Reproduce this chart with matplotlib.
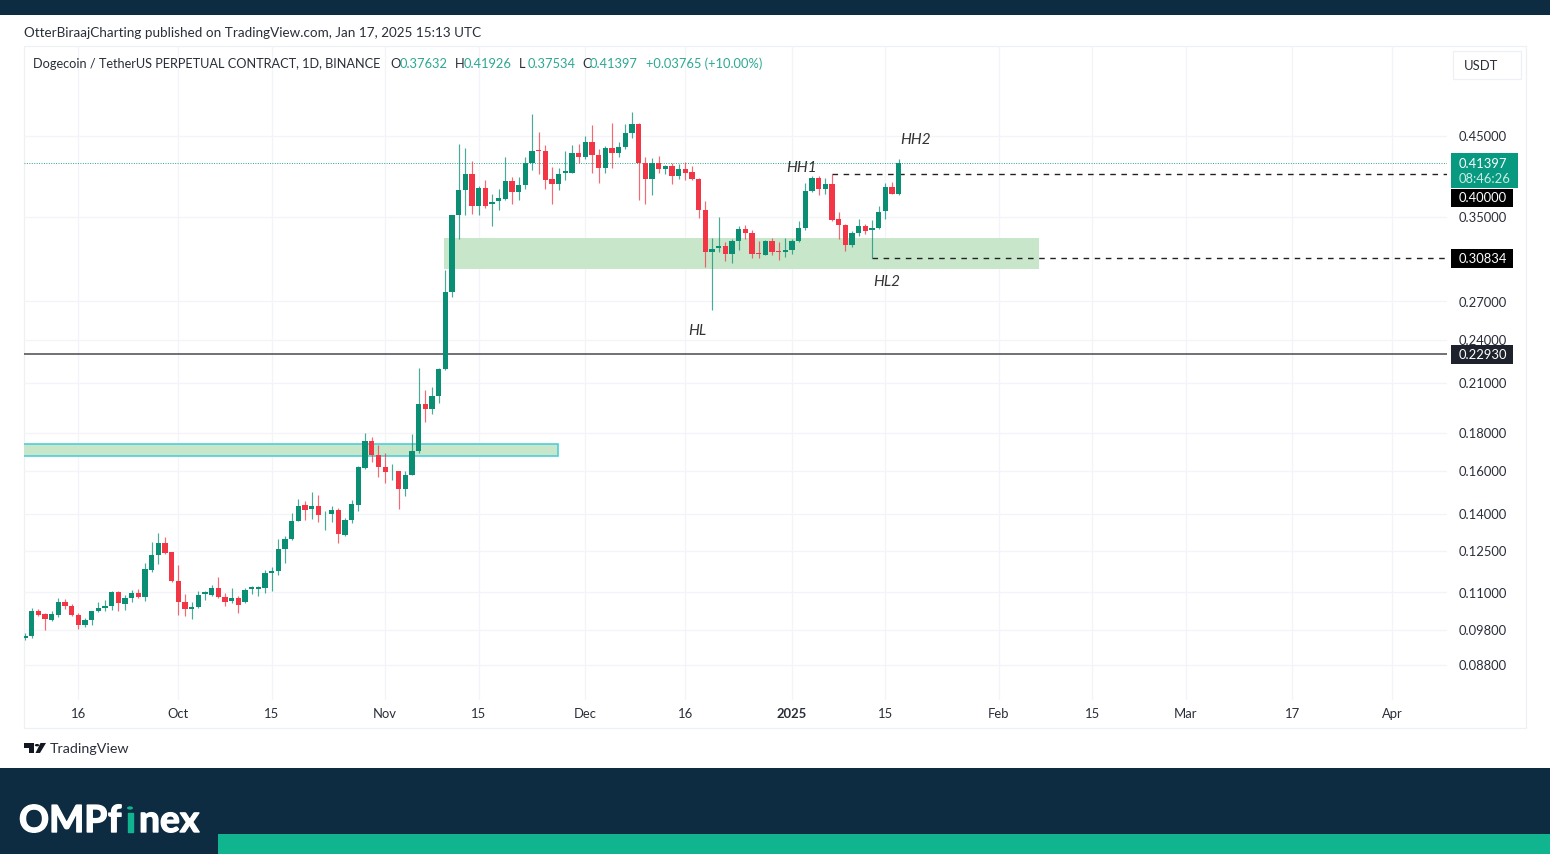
import numpy as np
import pandas as pd
import matplotlib
matplotlib.use("Agg")
import matplotlib.pyplot as plt
import matplotlib.dates as mdates
import matplotlib.patheffects as pe
from matplotlib.patches import Rectangle, Polygon, Circle
from matplotlib.ticker import NullLocator

plt.rcParams['font.family'] = ['Lato', 'DejaVu Sans']

start_date = "2024-09-08"

opens = [.0955,.0960,.1039,.1028,.1011,.1026,.1069,.1053,.1026,.0993,
.1011,.1037,.1049,.1055,.1100,.1062,.1081,.1098,.1083,.1179,
.1235,.1281,.1244,.1140,.1068,.1046,.1051,.1095,.1092,.1116,
.1084,.1072,.1081,.1068,.1111,.1113,.1115,.1169,.1175,.1257,
.1297,.1372,.1441,.1422,.1438,.1403,.1402,.1419,.1314,.1373,
.1441,.1614,.1756,.1682,.1617,.1598,.1598,.1514,.1581,.1699,
.1966,.1936,.2019,.2193,.2780,.3520,.3802,.3994,.3627,.3830,
.3641,.3675,.3706,.3914,.3778,.3872,.4136,.4310,.4300,.3937,
.3877,.4018,.4018,.4266,.4217,.4410,.4247,.4074,.4329,.4274,
.4351,.4538,.4673,.4144,.3937,.4144,.4065,.4094,.3978,.4065,
.4023,.3937,.3582,.3144,.3183,.3205,.3125,.3248,.3374,.3339,
.3134,.3118,.3248,.3150,.3140,.3159,.3255,.3385,.3798,.3945,
.3822,.3882,.3480,.3420,.3208,.3339,.3412,.3360,.3381,.3563,
.3848,.37632]

closes = [.0960,.1037,.1026,.1013,.1028,.1069,.1053,.1026,.0996,.1011,
.1037,.1049,.1055,.1100,.1064,.1081,.1098,.1083,.1183,.1235,
.1281,.1241,.1140,.1068,.1046,.1051,.1091,.1100,.1115,.1084,
.1069,.1081,.1058,.1109,.1117,.1117,.1167,.1175,.1258,.1297,
.1372,.1438,.1419,.1437,.1395,.1407,.1416,.1317,.1376,.1444,
.1617,.1757,.1682,.1617,.1593,.1602,.1514,.1581,.1699,.1966,
.1936,.2019,.2193,.2783,.3520,.3802,.3994,.3627,.3830,.3627,
.3672,.3713,.3914,.3778,.3872,.4136,.4300,.4300,.3929,.3877,
.4000,.4035,.4266,.4217,.4410,.4247,.4074,.4329,.4274,.4351,
.4538,.4673,.4144,.3937,.4144,.4060,.4094,.3978,.4065,.4018,
.3937,.3582,.3144,.3176,.3205,.3125,.3248,.3374,.3339,.3128,
.3125,.3248,.3144,.3140,.3159,.3255,.3391,.3798,.3945,.3822,
.3882,.3473,.3420,.3215,.3339,.3412,.3357,.3381,.3557,.3848,
.3762,.41397]

highs = [.0970,.1047,.1044,.1033,.1037,.1081,.1077,.1062,.1031,.1016,
.1040,.1069,.1073,.1106,.1103,.1092,.1107,.1111,.1206,.1285,
.1323,.1305,.1247,.1195,.1095,.1069,.1104,.1103,.1126,.1155,
.1098,.1115,.1086,.1115,.1122,.1120,.1179,.1191,.1298,.1307,
.1407,.1467,.1456,.1499,.1486,.1412,.1438,.1427,.1383,.1464,
.1625,.1798,.1776,.1734,.1691,.1634,.1602,.1602,.1795,.2197,
.2051,.2072,.2197,.2976,.3527,.4394,.4339,.4170,.3858,.3921,
.3763,.3818,.4217,.3962,.3962,.4210,.4812,.4548,.4368,.4085,
.4077,.4300,.4368,.4394,.4500,.4647,.4315,.4360,.4683,.4420,
.4673,.4842,.4683,.4217,.4196,.4234,.4115,.4144,.4128,.4153,
.4103,.3949,.3675,.3282,.3502,.3238,.3272,.3402,.3420,.3360,
.3248,.3265,.3282,.3238,.3282,.3272,.3455,.3894,.3978,.3970,
.3949,.4000,.3552,.3430,.3350,.3480,.3430,.3473,.3627,.3885,
.3905,.41926]

lows = [.0950,.0955,.1021,.0978,.1006,.1019,.1044,.1021,.0982,.0988,
.0995,.1035,.1040,.1042,.1040,.1042,.1069,.1081,.1072,.1173,
.1201,.1239,.1135,.1026,.1023,.1013,.1047,.1075,.1086,.1081,
.1055,.1064,.1031,.1064,.1095,.1088,.1098,.1103,.1161,.1206,
.1294,.1369,.1373,.1379,.1368,.1334,.1366,.1281,.1307,.1362,
.1412,.1611,.1647,.1568,.1541,.1557,.1423,.1483,.1578,.1691,
.1858,.1908,.1973,.2186,.2736,.3272,.3527,.3538,.3527,.3601,
.3409,.3574,.3694,.3649,.3694,.3818,.4052,.4002,.3818,.3649,
.3802,.3929,.4009,.4144,.4188,.4009,.3888,.4009,.4074,.4210,
.4315,.4476,.3686,.3649,.3752,.4009,.4002,.3882,.3937,.3929,
.3921,.3491,.3001,.2631,.3144,.3054,.3041,.3166,.3272,.3086,
.3086,.3111,.3118,.3070,.3096,.3128,.3238,.3367,.3783,.3752,
.3755,.3465,.3272,.3150,.3198,.3300,.3326,.3083,.3374,.3486,
.3755,.37534]

price_ticks = [0.45, 0.35, 0.27, 0.24, 0.21, 0.18, 0.16, 0.14, 0.125, 0.11, 0.098, 0.088]
price_tick_labels = ["0.45000", "0.35000", "0.27000", "0.24000", "0.21000", "0.18000",
                     "0.16000", "0.14000", "0.12500", "0.11000", "0.09800", "0.08800"]
date_ticks = ["2024-09-16", "2024-10-01", "2024-10-15", "2024-11-01", "2024-11-15", "2024-12-01",
              "2024-12-16", "2025-01-01", "2025-01-15", "2025-02-01", "2025-02-15", "2025-03-01",
              "2025-03-17", "2025-04-01"]
date_tick_labels = ["16", "Oct", "15", "Nov", "15", "Dec", "16", "2025", "15", "Feb", "15", "Mar", "17", "Apr"]

last_price = 0.41397
hh_level = 0.40000
hl_level = 0.30834
hline_level = 0.22930
hh_start, hl_start = "2025-01-07", "2025-01-13"
upper_zone = (0.3285, 0.2985, "2024-11-10", "2025-02-07")
lower_zone = (0.1739, 0.1677, "2024-09-07", "2024-11-27")

W, H = 1550, 854
NAVY = "#0d2b41"
TEAL = "#10b48f"
UP, DOWN = "#0a8f75", "#f23645"
LABEL_UP = "#089981"
GRID = "#f2f4f9"
TXT = "#2a2e39"

fig = plt.figure(figsize=(W / 100, (H + 0.2) / 100), dpi=100, facecolor="white")

def fx(x): return x / W
def fy(y): return 1 - y / H

def box(x0, y0, x1, y1, fc, ec="none", lw=0, z=2):
    r = Rectangle((fx(x0), fy(y1)), (x1 - x0) / W, (y1 - y0) / H, transform=fig.transFigure,
                  facecolor=fc, edgecolor=ec, linewidth=lw, zorder=z)
    fig.add_artist(r)
    return r

def label(x, y, s, size=9.4, color=TXT, ha="left", **kw):
    return fig.text(fx(x), fy(y), s, fontsize=size, color=color, ha=ha, va="center", zorder=5, **kw)

# pane in pixels
PL, PT, PR, PB = 24, 46, 1447, 700
ax = fig.add_axes([fx(PL), fy(PB), (PR - PL) / W, (PB - PT) / H], zorder=1)
ax.patch.set_alpha(0)

dates = pd.date_range(start_date, periods=len(opens))
x = mdates.date2num(dates)
o, h, l, c = map(np.array, (opens, highs, lows, closes))
up = c >= o
colors = np.where(up, UP, DOWN)

ax.set_yscale("log")
ax.set_ylim(0.07891, 0.5941)
ax.set_xlim(x[0] - 0.15, x[0] + 213.2)

ax.yaxis.tick_right()
ax.set_yticks(price_ticks)
ax.set_yticklabels(price_tick_labels)
ax.yaxis.set_minor_locator(NullLocator())
ax.set_xticks(mdates.date2num(pd.to_datetime(date_ticks)))
ax.set_xticklabels(date_tick_labels)
ax.tick_params(axis="y", length=0, pad=8.2, labelsize=9.4, labelcolor=TXT)
ax.tick_params(axis="x", length=0, pad=6, labelsize=9.4, labelcolor=TXT)
for t, s in zip(ax.get_xticklabels(), date_tick_labels):
    if s == "2025":
        t.set_fontweight("bold")
ax.grid(True, color=GRID, lw=0.9, zorder=0)
ax.set_axisbelow(True)
for sp in ax.spines.values():
    sp.set_visible(False)

def d(s): return mdates.date2num(pd.Timestamp(s))

# zones
ax.add_patch(Rectangle((d(upper_zone[2]) - 0.2, upper_zone[1]), d(upper_zone[3]) - d(upper_zone[2]) + 0.2,
                       upper_zone[0] - upper_zone[1], facecolor="#c8e6c9", edgecolor="none", zorder=1))
ax.add_patch(Rectangle((d(lower_zone[2]), lower_zone[1]), d(lower_zone[3]) - d(lower_zone[2]) - 0.1,
                       lower_zone[0] - lower_zone[1], facecolor="#c8e6c9", edgecolor="#4dd0d9", lw=1.2, zorder=1))

# levels
ax.axhline(last_price, color="#2aa58f", lw=0.7, ls=(0, (1, 1.5)), zorder=1.5)
ax.axhline(hline_level, color="#4a4a4f", lw=1.1, zorder=1.5)
ax.plot([d(hh_start), ax.get_xlim()[1]], [hh_level, hh_level], color="#222222", lw=1.0, ls=(0, (4, 4)), zorder=1.6)
ax.plot([d(hl_start), ax.get_xlim()[1]], [hl_level, hl_level], color="#222222", lw=1.0, ls=(0, (4, 4)), zorder=1.6)

# candles
ax.vlines(x, l, h, colors=colors, lw=0.85, alpha=0.75, zorder=2)
ax.bar(x, np.maximum(np.abs(c - o), 0.0004), bottom=np.minimum(o, c), width=0.8,
       color=colors, edgecolor="none", zorder=3)

# frame
box(PL, PT, 1526, 728, "none", ec="#eef0f5", lw=0.9, z=0.5)

# bands
box(0, 0, W, 15, NAVY)
box(0, 768, W, H + 1, NAVY)
box(218, 834, W, H + 1, TEAL, z=3)

# header text
label(24, 33, "OtterBiraajCharting published on TradingView.com, Jan 17, 2025 15:13 UTC", size=9.75)
label(33, 64, "Dogecoin / TetherUS PERPETUAL CONTRACT, 1D, BINANCE", size=9.15)
for xp, s, col in [(390, "O", TXT), (400, "0.37632", LABEL_UP), (455, "H", TXT), (464, "0.41926", LABEL_UP),
                   (519, "L", TXT), (528, "0.37534", LABEL_UP), (582, "C", TXT), (590, "0.41397", LABEL_UP),
                   (646, "+0.03765 (+10.00%)", LABEL_UP)]:
    label(xp, 64, s, size=9.3, color=col, alpha=1 if col == TXT else 0.85)

# USDT box
box(1453, 51, 1521, 79, "white", ec="#eef0f5", lw=0.9, z=2)
label(1464, 66, "USDT", size=9.4)

# price labels
box(1451, 153, 1518, 188, LABEL_UP, z=4)
label(1459, 163.5, "0.41397", color="white")
label(1459, 179, "08:46:26", color="#c9ebe3")
box(1451, 189, 1513, 207, "black", z=4)
label(1459, 198, "0.40000", color="white")
box(1451, 249, 1513, 268, "black", z=4)
label(1459, 258.5, "0.30834", color="white")
box(1451, 345, 1513, 364, "#1e222d", z=4)
label(1459, 354.5, "0.22930", color="white")

# annotations
label(801.5, 168, "HH1", size=11, color="#333333", ha="center", style="italic")
label(915.5, 140, "HH2", size=11, color="#333333", ha="center", style="italic")
label(887, 282, "HL2", size=11, color="#333333", ha="center", style="italic")
label(697, 331, "HL", size=11, color="#333333", ha="center", style="italic")

# TradingView mark
def poly(pts, col):
    fig.add_artist(Polygon([(fx(a), fy(b)) for a, b in pts], closed=True, transform=fig.transFigure,
                           facecolor=col, edgecolor="none", zorder=5))
poly([(24, 743), (34, 743), (34, 753), (29, 753), (29, 748), (24, 748)], "#131722")
poly([(40, 753), (35.5, 753), (40.5, 743), (46, 743)], "#131722")
fig.add_artist(Circle((fx(37), fy(745.2)), 2.2 / W, transform=fig.transFigure, facecolor="#131722",
                      edgecolor="none", zorder=5))
label(50, 749, "TradingView", size=10.3, color="#2a2e39")

# OMPfinex logo
def heavy(xp, s, col):
    t = label(xp, 821.5, s, size=26.8, color=col, fontweight="bold")
    t.set_path_effects([pe.withStroke(linewidth=1.0, foreground=col)])
heavy(19, "OMP", "white")
heavy(108, "f", "white")
heavy(126, "ı", TEAL)
fig.add_artist(Circle((fx(130), fy(808)), 3 / W, transform=fig.transFigure, facecolor=TEAL, edgecolor="none", zorder=5))
heavy(139, "nex", "white")

fig.savefig("out.png", dpi=100)
